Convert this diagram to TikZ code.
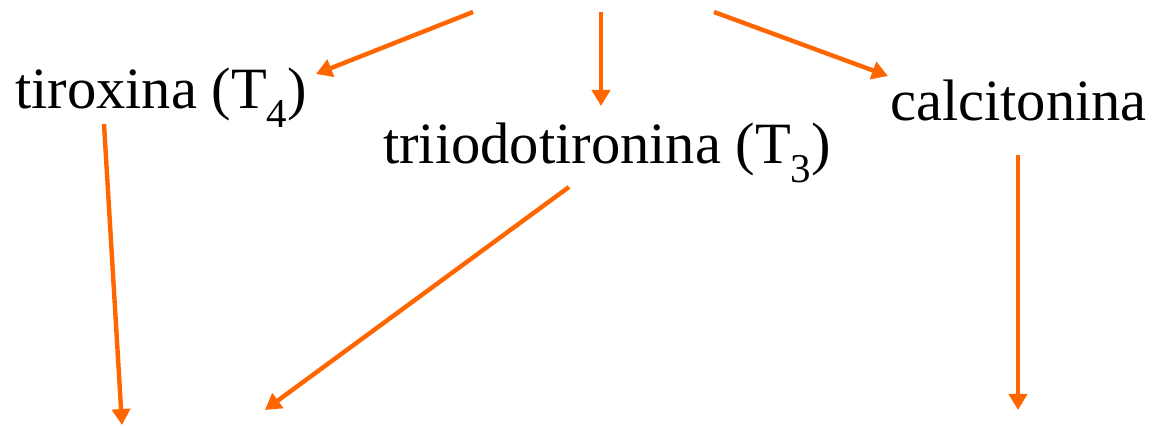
\documentclass[tikz,border=0pt]{standalone}
\usepackage{fontspec}
\setmainfont{Liberation Serif}
\usetikzlibrary{arrows.meta}
\definecolor{arr}{HTML}{FF6600}
\tikzset{
  lbl/.style={anchor=base west, inner sep=0pt, font=\fontsize{58.5}{62}\selectfont},
  conn/.style={draw=arr, line width=4.4pt, -{Triangle[length=16pt,width=18pt]}}
}
\begin{document}
\begin{tikzpicture}[x=1pt,y=-1pt]
\useasboundingbox (0,0) rectangle (1154,427);
\node[lbl] (t4) at (15,109) {tiroxina (T\textsubscript{4})};
\node[lbl] (t3) at (383,164) {triiodotironina (T\textsubscript{3})};
\node[lbl] (cal) at (890,121) {calcitonina};
\coordinate (s1) at (473,12);
\coordinate (s2) at (601,12);
\coordinate (s3) at (714,12);
\coordinate (e1) at (316,74);
\coordinate (e2) at (601,106);
\coordinate (e3) at (888,76);
\coordinate (a4) at (104,124);
\coordinate (b4) at (122,425);
\coordinate (a5) at (569,187);
\coordinate (b5) at (265,410);
\coordinate (a6) at (1018,155);
\coordinate (b6) at (1018,410);
\draw[conn] (s1) -- (e1);
\draw[conn] (s2) -- (e2);
\draw[conn] (s3) -- (e3);
\draw[conn] (a4) -- (b4);
\draw[conn] (a5) -- (b5);
\draw[conn] (a6) -- (b6);
\end{tikzpicture}
\end{document}
